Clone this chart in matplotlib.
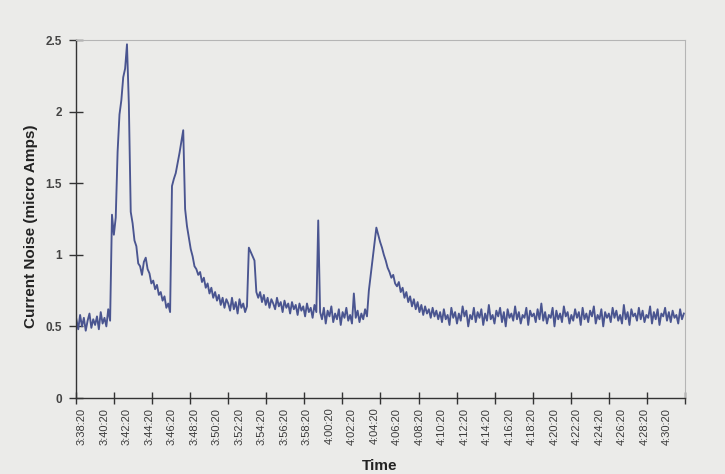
import numpy as np
import pandas as pd
import matplotlib
matplotlib.use("Agg")
import matplotlib.pyplot as plt
import matplotlib.dates as mdates

plt.rcParams['font.family'] = ['Liberation Sans', 'DejaVu Sans']

# current noise sampled every 10 s, starting 3:37:50
start_time = '2000-01-01 03:37:50'
sample_seconds = 10
noise_ua = [
    # baseline
    0.55, 0.48, 0.58, 0.50, 0.56, 0.47, 0.54, 0.59, 0.49, 0.55,
    0.51, 0.57, 0.48, 0.60, 0.52, 0.56, 0.50, 0.62, 0.54,
    # first event
    1.28, 1.14, 1.26, 1.72, 1.98, 2.08, 2.24, 2.30, 2.47, 2.05, 1.30,
    1.22, 1.10, 1.06, 0.94, 0.92, 0.86, 0.95, 0.98, 0.90, 0.87,
    0.80, 0.82, 0.76, 0.79, 0.72, 0.74, 0.68, 0.71, 0.63, 0.66, 0.60,
    # second event
    1.48, 1.53, 1.57, 1.64, 1.71, 1.79, 1.87,
    1.32, 1.20, 1.12, 1.04, 0.99, 0.92, 0.90, 0.86, 0.88, 0.81,
    0.84, 0.77, 0.80, 0.73, 0.77, 0.70, 0.74, 0.68, 0.72, 0.65,
    0.70, 0.63, 0.69, 0.66, 0.61, 0.70, 0.62, 0.67, 0.59, 0.69,
    0.63, 0.66, 0.60, 0.64,
    # third event
    1.05, 1.02, 0.99, 0.96, 0.74,
    0.70, 0.74, 0.67, 0.72, 0.65, 0.70, 0.63, 0.69, 0.66, 0.62,
    0.70, 0.64, 0.67, 0.60, 0.68, 0.63, 0.66, 0.59, 0.67, 0.62,
    0.65, 0.58, 0.66, 0.61, 0.64, 0.57, 0.66, 0.60, 0.63, 0.56,
    0.65, 0.60,
    # single spike
    1.24,
    0.60, 0.55, 0.63, 0.52, 0.61, 0.57, 0.64, 0.53, 0.59, 0.55,
    0.62, 0.51, 0.60, 0.56, 0.63, 0.54, 0.58, 0.52, 0.73, 0.56,
    0.61, 0.53, 0.59, 0.55, 0.62, 0.57,
    # fourth event
    0.75, 0.86, 0.97, 1.08, 1.19,
    1.14, 1.09, 1.05, 1.00, 0.96, 0.91, 0.88, 0.84, 0.86, 0.80,
    0.78, 0.81, 0.74, 0.77, 0.70, 0.74, 0.67, 0.71, 0.64, 0.69,
    0.62, 0.67, 0.60, 0.65, 0.58, 0.64, 0.59, 0.62, 0.56, 0.63,
    0.57, 0.61, 0.55,
    # tail
    0.60, 0.53, 0.62, 0.55, 0.58, 0.51, 0.63, 0.56, 0.60, 0.52,
    0.59, 0.54, 0.64, 0.57, 0.61, 0.50, 0.58, 0.55, 0.63, 0.53,
    0.60, 0.56, 0.62, 0.51, 0.59, 0.54, 0.65, 0.55, 0.58, 0.52,
    0.61, 0.57, 0.63, 0.53, 0.60, 0.50, 0.62, 0.56, 0.59, 0.54,
    0.64, 0.55, 0.60, 0.52, 0.58, 0.56, 0.63, 0.51, 0.61, 0.57,
    0.59, 0.53, 0.62, 0.55, 0.66, 0.54, 0.60, 0.52, 0.58, 0.56,
    0.63, 0.50, 0.61, 0.55, 0.59, 0.53, 0.64, 0.57, 0.60, 0.52,
    0.58, 0.54, 0.62, 0.56, 0.60, 0.51, 0.63, 0.55, 0.59, 0.53,
    0.61, 0.57, 0.64, 0.52, 0.58, 0.55, 0.62, 0.50, 0.60, 0.56,
    0.59, 0.53, 0.63, 0.56, 0.61, 0.54, 0.58, 0.52, 0.65, 0.55,
    0.60, 0.51, 0.62, 0.57, 0.59, 0.54, 0.63, 0.55, 0.61, 0.53,
    0.58, 0.56, 0.64, 0.52, 0.60, 0.55, 0.62, 0.51, 0.59, 0.57,
    0.63, 0.54, 0.60, 0.53, 0.61, 0.56, 0.58, 0.52, 0.62, 0.55,
    0.59,
]

time_labels = ['3:38:20', '3:40:20', '3:42:20', '3:44:20', '3:46:20', '3:48:20',
               '3:50:20', '3:52:20', '3:54:20', '3:56:20', '3:58:20', '4:00:20',
               '4:02:20', '4:04:20', '4:06:20', '4:08:20', '4:10:20', '4:12:20',
               '4:14:20', '4:16:20', '4:18:20', '4:20:20', '4:22:20', '4:24:20',
               '4:26:20', '4:28:20', '4:30:20']
y_ticks = [0, 0.5, 1, 1.5, 2, 2.5]
y_ticklabels = ['0', '0.5', '1', '1.5', '2', '2.5']

times = pd.date_range(start_time, periods=len(noise_ua), freq=f'{sample_seconds}s')
label_times = pd.to_datetime(['2000-01-01 0' + t for t in time_labels])
x_min = pd.Timestamp('2000-01-01 03:37:48')
x_max = pd.Timestamp('2000-01-01 04:31:56')

paper = '#ebebe9'
fig = plt.figure(figsize=(7.25, 4.74), dpi=100, facecolor=paper)
ax = fig.add_axes([0.1048, 0.1603, 0.840, 0.7553], facecolor=paper)

ax.plot(times, noise_ua, color='#4a5590', lw=1.35)

ax.set_xlim(mdates.date2num(x_min), mdates.date2num(x_max))
ax.set_ylim(0, 2.5)

# labels sit at every 2 min, tick marks split the axis into 16 parts
ax.set_xticks(mdates.date2num(label_times))
ax.set_xticklabels(time_labels, rotation=90, fontsize=8, color='#3a3a3a')
ax.tick_params(axis='x', which='major', length=0, pad=7)
ax.set_xticks(np.linspace(mdates.date2num(x_min), mdates.date2num(x_max), 17), minor=True)
ax.tick_params(axis='x', which='minor', direction='inout', length=8, width=1, color='#333333')

ax.set_yticks(y_ticks)
ax.set_yticklabels(y_ticklabels, fontsize=8.5, fontweight='bold', color='#444444')
ax.tick_params(axis='y', direction='inout', length=10, width=1, color='#333333', pad=5)

for side in ['left', 'bottom']:
    ax.spines[side].set_color('#333333')
    ax.spines[side].set_linewidth(1.0)
for side in ['top', 'right']:
    ax.spines[side].set_color('#b5b5b5')
    ax.spines[side].set_linewidth(0.8)

ax.set_ylabel('Current Noise (micro Amps)', fontsize=11, fontweight='bold', color='#222222')
ax.yaxis.set_label_coords(-0.062, 0.479)
ax.set_xlabel('Time', fontsize=11, fontweight='bold', color='#222222')
ax.xaxis.set_label_coords(0.499, -0.170)

fig.savefig('out.png', dpi=100, facecolor=paper)
